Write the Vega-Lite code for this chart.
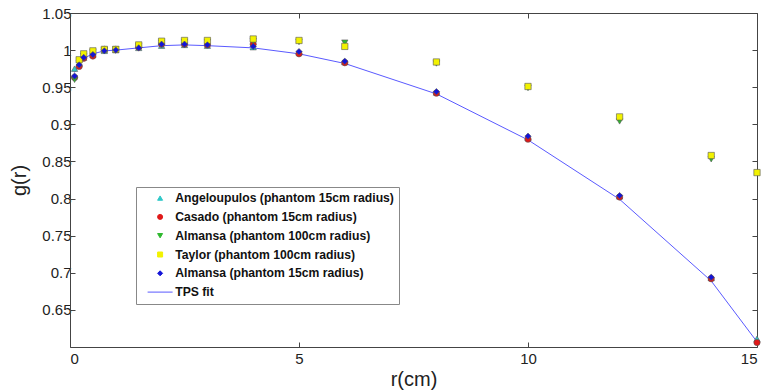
{
  "$schema": "https://vega.github.io/schema/vega-lite/v6.json",
  "width": 687,
  "height": 334,
  "autosize": {"type": "none"},
  "padding": {"left": 70, "top": 13, "right": 9, "bottom": 45},
  "background": "white",
  "config": {
    "font": "Liberation Sans",
    "view": {"stroke": null},
    "axis": {"grid": false, "domainColor": "#444", "tickColor": "#444", "labelColor": "#222", "titleColor": "#222", "labelFont": "Liberation Sans", "titleFont": "Liberation Sans", "titleFontWeight": "normal"}
  },
  "datasets": {
    "pts": [
      {"series": "Angeloupulos (phantom 15cm radius)", "r": 0.1, "g": 0.975},
      {"series": "Angeloupulos (phantom 15cm radius)", "r": 0.2, "g": 0.982},
      {"series": "Angeloupulos (phantom 15cm radius)", "r": 0.3, "g": 0.990},
      {"series": "Angeloupulos (phantom 15cm radius)", "r": 0.5, "g": 0.994},
      {"series": "Angeloupulos (phantom 15cm radius)", "r": 0.75, "g": 0.999},
      {"series": "Angeloupulos (phantom 15cm radius)", "r": 1, "g": 1.000},
      {"series": "Angeloupulos (phantom 15cm radius)", "r": 1.5, "g": 1.003},
      {"series": "Angeloupulos (phantom 15cm radius)", "r": 2, "g": 1.006},
      {"series": "Angeloupulos (phantom 15cm radius)", "r": 2.5, "g": 1.007},
      {"series": "Angeloupulos (phantom 15cm radius)", "r": 3, "g": 1.006},
      {"series": "Angeloupulos (phantom 15cm radius)", "r": 4, "g": 1.004},
      {"series": "Angeloupulos (phantom 15cm radius)", "r": 5, "g": 0.997},
      {"series": "Angeloupulos (phantom 15cm radius)", "r": 6, "g": 0.984},
      {"series": "Angeloupulos (phantom 15cm radius)", "r": 8, "g": 0.943},
      {"series": "Angeloupulos (phantom 15cm radius)", "r": 10, "g": 0.882},
      {"series": "Angeloupulos (phantom 15cm radius)", "r": 12, "g": 0.803},
      {"series": "Angeloupulos (phantom 15cm radius)", "r": 14, "g": 0.693},
      {"series": "Angeloupulos (phantom 15cm radius)", "r": 15, "g": 0.611},
      {"series": "Casado (phantom 15cm radius)", "r": 0.1, "g": 0.963},
      {"series": "Casado (phantom 15cm radius)", "r": 0.2, "g": 0.978},
      {"series": "Casado (phantom 15cm radius)", "r": 0.3, "g": 0.989},
      {"series": "Casado (phantom 15cm radius)", "r": 0.5, "g": 0.992},
      {"series": "Casado (phantom 15cm radius)", "r": 0.75, "g": 1.001},
      {"series": "Casado (phantom 15cm radius)", "r": 1, "g": 1.001},
      {"series": "Casado (phantom 15cm radius)", "r": 1.5, "g": 1.004},
      {"series": "Casado (phantom 15cm radius)", "r": 2, "g": 1.008},
      {"series": "Casado (phantom 15cm radius)", "r": 2.5, "g": 1.008},
      {"series": "Casado (phantom 15cm radius)", "r": 3, "g": 1.007},
      {"series": "Casado (phantom 15cm radius)", "r": 4, "g": 1.008},
      {"series": "Casado (phantom 15cm radius)", "r": 5, "g": 0.995},
      {"series": "Casado (phantom 15cm radius)", "r": 6, "g": 0.983},
      {"series": "Casado (phantom 15cm radius)", "r": 8, "g": 0.942},
      {"series": "Casado (phantom 15cm radius)", "r": 10, "g": 0.880},
      {"series": "Casado (phantom 15cm radius)", "r": 12, "g": 0.802},
      {"series": "Casado (phantom 15cm radius)", "r": 14, "g": 0.692},
      {"series": "Casado (phantom 15cm radius)", "r": 15, "g": 0.606},
      {"series": "Almansa (phantom 100cm radius)", "r": 0.1, "g": 0.960},
      {"series": "Almansa (phantom 100cm radius)", "r": 0.2, "g": 0.982},
      {"series": "Almansa (phantom 100cm radius)", "r": 0.3, "g": 0.992},
      {"series": "Almansa (phantom 100cm radius)", "r": 0.5, "g": 0.997},
      {"series": "Almansa (phantom 100cm radius)", "r": 0.75, "g": 1.000},
      {"series": "Almansa (phantom 100cm radius)", "r": 1, "g": 1.001},
      {"series": "Almansa (phantom 100cm radius)", "r": 1.5, "g": 1.005},
      {"series": "Almansa (phantom 100cm radius)", "r": 2, "g": 1.010},
      {"series": "Almansa (phantom 100cm radius)", "r": 2.5, "g": 1.011},
      {"series": "Almansa (phantom 100cm radius)", "r": 3, "g": 1.011},
      {"series": "Almansa (phantom 100cm radius)", "r": 4, "g": 1.012},
      {"series": "Almansa (phantom 100cm radius)", "r": 5, "g": 1.011},
      {"series": "Almansa (phantom 100cm radius)", "r": 6, "g": 1.010},
      {"series": "Almansa (phantom 100cm radius)", "r": 8, "g": 0.982},
      {"series": "Almansa (phantom 100cm radius)", "r": 10, "g": 0.949},
      {"series": "Almansa (phantom 100cm radius)", "r": 12, "g": 0.904},
      {"series": "Almansa (phantom 100cm radius)", "r": 14, "g": 0.853},
      {"series": "Taylor (phantom 100cm radius)", "r": 0.2, "g": 0.987},
      {"series": "Taylor (phantom 100cm radius)", "r": 0.3, "g": 0.995},
      {"series": "Taylor (phantom 100cm radius)", "r": 0.5, "g": 0.999},
      {"series": "Taylor (phantom 100cm radius)", "r": 0.75, "g": 1.001},
      {"series": "Taylor (phantom 100cm radius)", "r": 1, "g": 1.001},
      {"series": "Taylor (phantom 100cm radius)", "r": 1.5, "g": 1.007},
      {"series": "Taylor (phantom 100cm radius)", "r": 2, "g": 1.012},
      {"series": "Taylor (phantom 100cm radius)", "r": 2.5, "g": 1.013},
      {"series": "Taylor (phantom 100cm radius)", "r": 3, "g": 1.013},
      {"series": "Taylor (phantom 100cm radius)", "r": 4, "g": 1.015},
      {"series": "Taylor (phantom 100cm radius)", "r": 5, "g": 1.013},
      {"series": "Taylor (phantom 100cm radius)", "r": 6, "g": 1.005},
      {"series": "Taylor (phantom 100cm radius)", "r": 8, "g": 0.984},
      {"series": "Taylor (phantom 100cm radius)", "r": 10, "g": 0.951},
      {"series": "Taylor (phantom 100cm radius)", "r": 12, "g": 0.910},
      {"series": "Taylor (phantom 100cm radius)", "r": 14, "g": 0.858},
      {"series": "Taylor (phantom 100cm radius)", "r": 15, "g": 0.835},
      {"series": "Almansa (phantom 15cm radius)", "r": 0.1, "g": 0.965},
      {"series": "Almansa (phantom 15cm radius)", "r": 0.2, "g": 0.980},
      {"series": "Almansa (phantom 15cm radius)", "r": 0.3, "g": 0.990},
      {"series": "Almansa (phantom 15cm radius)", "r": 0.5, "g": 0.994},
      {"series": "Almansa (phantom 15cm radius)", "r": 0.75, "g": 0.999},
      {"series": "Almansa (phantom 15cm radius)", "r": 1, "g": 1.000},
      {"series": "Almansa (phantom 15cm radius)", "r": 1.5, "g": 1.003},
      {"series": "Almansa (phantom 15cm radius)", "r": 2, "g": 1.008},
      {"series": "Almansa (phantom 15cm radius)", "r": 2.5, "g": 1.008},
      {"series": "Almansa (phantom 15cm radius)", "r": 3, "g": 1.007},
      {"series": "Almansa (phantom 15cm radius)", "r": 4, "g": 1.005},
      {"series": "Almansa (phantom 15cm radius)", "r": 5, "g": 0.998},
      {"series": "Almansa (phantom 15cm radius)", "r": 6, "g": 0.985},
      {"series": "Almansa (phantom 15cm radius)", "r": 8, "g": 0.944},
      {"series": "Almansa (phantom 15cm radius)", "r": 10, "g": 0.884},
      {"series": "Almansa (phantom 15cm radius)", "r": 12, "g": 0.804},
      {"series": "Almansa (phantom 15cm radius)", "r": 14, "g": 0.694}
    ],
    "fit": [
      {"series": "TPS fit", "r": 0.1, "g": 0.970},
      {"series": "TPS fit", "r": 0.2, "g": 0.981},
      {"series": "TPS fit", "r": 0.3, "g": 0.989},
      {"series": "TPS fit", "r": 0.5, "g": 0.995},
      {"series": "TPS fit", "r": 0.75, "g": 0.999},
      {"series": "TPS fit", "r": 1, "g": 1.000},
      {"series": "TPS fit", "r": 1.5, "g": 1.003},
      {"series": "TPS fit", "r": 2, "g": 1.006},
      {"series": "TPS fit", "r": 2.5, "g": 1.007},
      {"series": "TPS fit", "r": 3, "g": 1.006},
      {"series": "TPS fit", "r": 4, "g": 1.003},
      {"series": "TPS fit", "r": 5, "g": 0.995},
      {"series": "TPS fit", "r": 6, "g": 0.982},
      {"series": "TPS fit", "r": 8, "g": 0.941},
      {"series": "TPS fit", "r": 10, "g": 0.879},
      {"series": "TPS fit", "r": 12, "g": 0.799},
      {"series": "TPS fit", "r": 14, "g": 0.689},
      {"series": "TPS fit", "r": 15, "g": 0.607}
    ]
  },
  "resolve": {"axis": {"x": "independent", "y": "independent"}},
  "layer": [
    {
      "data": {"name": "fit"},
      "mark": {"type": "line", "strokeWidth": 1, "clip": true},
      "encoding": {
        "x": {"field": "r", "type": "quantitative", "scale": {"domain": [0, 15], "nice": false, "zero": false},
              "axis": {"orient": "top", "labels": false, "title": null, "values": [0, 5, 10, 15], "tickSize": -5, "domain": true}},
        "y": {"field": "g", "type": "quantitative", "scale": {"domain": [0.6, 1.05], "nice": false, "zero": false},
              "axis": {"orient": "right", "labels": false, "title": null, "values": [0.65, 0.7, 0.75, 0.8, 0.85, 0.9, 0.95, 1, 1.05], "tickSize": -5, "domain": true}},
        "color": {"field": "series", "type": "nominal"}
      }
    },
    {
      "data": {"name": "pts"},
      "mark": {"type": "point", "filled": true, "size": 40, "stroke": "#555", "strokeWidth": 0.6, "opacity": 1},
      "encoding": {
        "x": {"field": "r", "type": "quantitative",
              "axis": {"orient": "bottom", "title": "r(cm)", "values": [0, 5, 10, 15], "format": "d", "tickSize": -5, "labelPadding": 9, "labelFontSize": 15, "titleFontSize": 20, "titlePadding": 3}},
        "y": {"field": "g", "type": "quantitative",
              "axis": {"orient": "left", "title": "g(r)", "values": [0.65, 0.7, 0.75, 0.8, 0.85, 0.9, 0.95, 1, 1.05], "format": ".2~f", "tickSize": -5, "labelPadding": 4, "labelFontSize": 15, "titleFontSize": 20, "titlePadding": 12}},
        "color": {"field": "series", "type": "nominal",
          "scale": {"domain": ["Angeloupulos (phantom 15cm radius)", "Casado (phantom 15cm radius)", "Almansa (phantom 100cm radius)", "Taylor (phantom 100cm radius)", "Almansa (phantom 15cm radius)", "TPS fit"],
                    "range": ["#2ec8c8", "#e01818", "#2db82d", "#f2f200", "#1414d8", "#5a5aff"]},
          "legend": {"title": null, "orient": "none", "legendX": 66, "legendY": 174, "padding": 5, "strokeColor": "#888", "fillColor": "white",
                     "labelFont": "Liberation Sans", "labelFontSize": 12.2, "labelFontWeight": "bold", "labelColor": "#111", "symbolSize": 25, "symbolOffset": 13, "rowPadding": 5.8, "labelOffset": 9, "labelLimit": 400,
                     "symbolStrokeWidth": 1,
                     "encode": {"symbols": {"update": {"stroke": {"scale": "color", "field": "value"}}}}}},
        "shape": {"field": "series", "type": "nominal",
          "scale": {"domain": ["Angeloupulos (phantom 15cm radius)", "Casado (phantom 15cm radius)", "Almansa (phantom 100cm radius)", "Taylor (phantom 100cm radius)", "Almansa (phantom 15cm radius)", "TPS fit"],
                    "range": ["triangle-up", "circle", "triangle-down", "square", "diamond", "M-5,0H5"]},
          "legend": {"title": null, "orient": "none", "legendX": 66, "legendY": 174}}
      }
    }
  ]
}
